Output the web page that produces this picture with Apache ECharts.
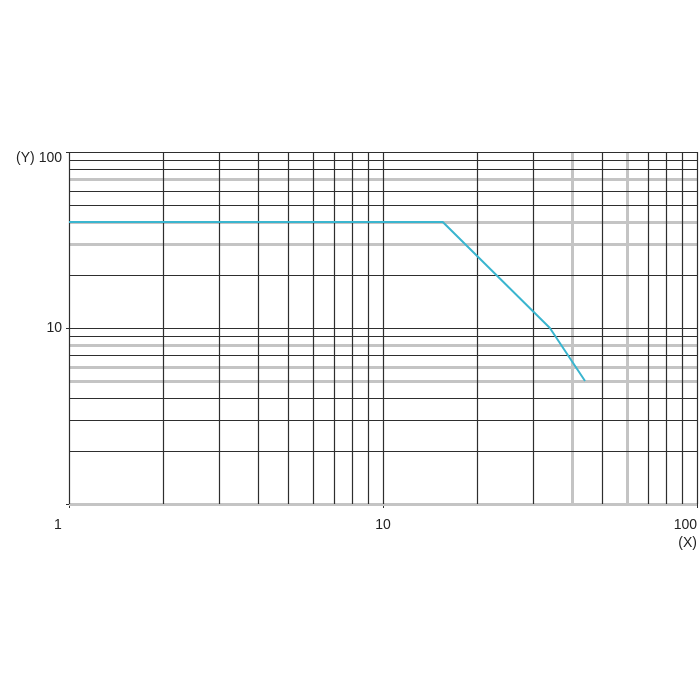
<!DOCTYPE html>
<html>
<head>
<meta charset="utf-8">
<script src="https://cdn.jsdelivr.net/npm/echarts@6/dist/echarts.min.js"></script>
<style>html,body{margin:0;padding:0;background:#fff;}#c{width:700px;height:700px;}</style>
</head>
<body>
<div id="c"></div>
<script>
// Curve (X, Y)
const curveX = [1, 15.5, 34, 44];
const curveY = [40, 40, 10, 5];
// Grid lines
const xGridDark = [1, 2, 3, 4, 5, 6, 7, 8, 9, 10, 20, 30, 50, 70, 80, 90, 100];
const xGridLight = [40, 60];
const yGridDark = [2, 3, 4, 7, 9, 10, 20, 50, 60, 80, 90, 100];
const yGridLight = [1, 5, 6, 8, 30, 40, 70];
// Tick labels
const xTickLabels = [1, 10, 100];
const yTickLabels = [10, 100];

const dark = '#2e2e2e', light = '#c4c4c4';
function ml(xs, ys, color, width) {
  const d = [];
  xs.forEach(v => d.push({ xAxis: v, lineStyle: { color: color, width: width, type: 'solid' } }));
  ys.forEach(v => d.push({ yAxis: v, lineStyle: { color: color, width: width, type: 'solid' } }));
  return { silent: true, symbol: ['none', 'none'], label: { show: false }, animation: false, data: d };
}

const chart = echarts.init(document.getElementById('c'));
chart.setOption({
  animation: false,
  backgroundColor: '#fff',
  grid: { left: 69, right: 3, top: 152, bottom: 196, containLabel: false, outerBoundsMode: 'none' },
  xAxis: {
    type: 'log', logBase: 10, min: 1, max: 100,
    axisLine: { show: false },
    axisTick: { show: true, length: 4, lineStyle: { color: dark, width: 1 } },
    splitLine: { show: false },
    axisLabel: {
      margin: 12, fontSize: 14, color: '#222', fontFamily: 'Liberation Sans, Arial, sans-serif',
      lineHeight: 18, hideOverlap: false, alignMaxLabel: 'right',
      formatter: function (v) {
        if (xTickLabels.indexOf(v) < 0) return '';
        if (v === 1) return '{l|1}';
        if (v === 100) return '100\n(X)';
        return String(v);
      },
      rich: {
        l: { padding: [0, 22, 0, 0], fontSize: 14, color: '#222' }
      }
    }
  },
  yAxis: {
    type: 'log', logBase: 10, min: 1, max: 100,
    axisLine: { show: false },
    axisTick: { show: true, length: 3, lineStyle: { color: dark, width: 1 } },
    splitLine: { show: false },
    axisLabel: {
      margin: 7, fontSize: 14, color: '#222', fontFamily: 'Liberation Sans, Arial, sans-serif',
      formatter: function (v) {
        if (yTickLabels.indexOf(v) < 0) return '';
        if (v === 100) return '{t|(Y) 100}';
        return String(v);
      },
      rich: { t: { padding: [12, 0, 0, 0], fontSize: 14, color: '#222' } }
    }
  },
  series: [
    { type: 'line', data: [], z: 1, markLine: ml(xGridLight, yGridLight, light, 3) },
    { type: 'line', data: [], z: 2, markLine: ml(xGridDark, yGridDark, dark, 1.2) },
    {
      type: 'line', z: 5, symbol: 'none',
      lineStyle: { color: '#3ab5cf', width: 2 },
      data: curveX.map((x, i) => [x, curveY[i]])
    }
  ]
});
</script>
</body>
</html>
